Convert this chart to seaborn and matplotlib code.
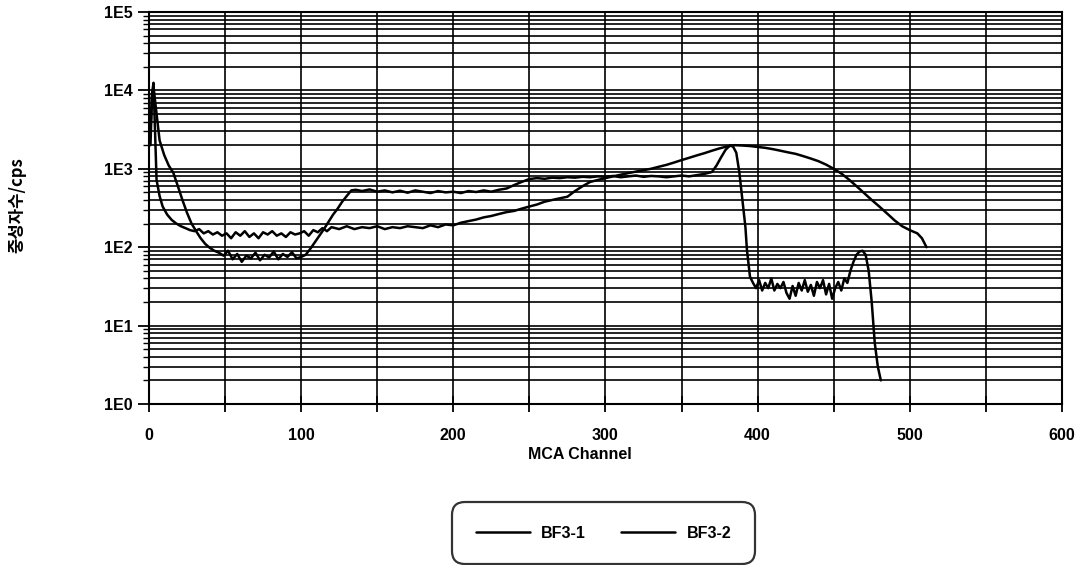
import numpy as np
import pandas as pd
import matplotlib
matplotlib.use("Agg")
import matplotlib.pyplot as plt
from matplotlib.ticker import FixedLocator, MultipleLocator, LogLocator, NullFormatter
import seaborn as sns

# ---- data ----
ch1 = [1, 2, 3, 4, 5, 7, 9, 12, 15, 18, 21, 24, 27, 30, 33, 36, 39, 42, 45, 48, 51, 54, 57, 60,
       63, 66, 69, 72, 75, 78, 81, 84, 87, 90, 93, 96, 99, 102, 105, 108, 111, 114, 117, 120,
       125, 130, 135, 140, 145, 150, 155, 160, 165, 170, 175, 180, 185, 190, 195, 200, 205,
       210, 215, 220, 225, 230, 235, 240, 245, 250, 255, 260, 265, 270, 275, 280, 285, 290,
       295, 300, 305, 310, 315, 320, 325, 330, 335, 340, 345, 350, 355, 360, 365, 370, 375,
       380, 385, 390, 395, 400, 405, 410, 415, 420, 425, 430, 435, 440, 445, 450, 455, 460,
       465, 470, 475, 480, 485, 490, 495, 500, 505, 508, 511]
bf3_1 = [3000, 9000, 12500, 3000, 720, 450, 330, 260, 222, 200, 185, 175, 165, 160, 170, 150,
         160, 145, 155, 140, 150, 130, 155, 140, 160, 135, 150, 130, 155, 145, 160, 140, 150,
         135, 155, 145, 150, 160, 140, 165, 155, 175, 160, 180, 170, 185, 170, 180, 175, 185,
         170, 180, 175, 185, 180, 175, 190, 180, 195, 190, 205, 215, 225, 240, 250, 265, 280,
         290, 310, 330, 350, 380, 400, 420, 440, 520, 600, 680, 720, 760, 800, 840, 880, 920,
         960, 1000, 1060, 1120, 1200, 1290, 1380, 1480, 1580, 1700, 1820, 1930, 2000, 1980,
         1950, 1900, 1850, 1780, 1700, 1620, 1550, 1450, 1350, 1250, 1130, 1000, 870, 730,
         600, 490, 400, 330, 270, 220, 185, 165, 150, 130, 100]

ch2 = [1, 2, 3, 5, 7, 10, 13, 16, 19, 22, 25, 28, 31, 34, 37, 40, 43, 46, 49, 52, 55, 58, 61,
       64, 67, 70, 73, 76, 79, 82, 85, 88, 91, 94, 97, 100, 103, 106, 109, 112, 115, 118, 121,
       124, 127, 130, 133, 136, 140, 145, 150, 155, 160, 165, 170, 175, 180, 185, 190, 195,
       200, 205, 210, 215, 220, 225, 230, 235, 240, 245, 250, 255, 260, 265, 270, 275, 280,
       285, 290, 295, 300, 305, 310, 315, 320, 325, 330, 335, 340, 345, 350, 355, 360, 365,
       370, 373, 376, 379, 382, 384, 386, 388, 390, 392, 393, 395, 397, 399, 401, 403, 405,
       407, 409, 411, 413, 415, 417, 419, 421, 423, 425, 427, 429, 431, 433, 435, 437, 439,
       441, 443, 445, 447, 449, 451, 453, 455, 457, 459, 461, 463, 465, 467, 469, 471, 473,
       475, 477, 479, 481]
bf3_2 = [2000, 8000, 11000, 5000, 2300, 1500, 1100, 890, 600, 400, 275, 200, 160, 130, 110, 98,
         90, 85, 78, 90, 70, 82, 65, 78, 72, 85, 68, 80, 74, 88, 70, 82, 75, 86, 72, 75, 80, 95,
         115, 140, 170, 210, 260, 310, 380, 450, 530, 540, 520, 545, 510, 530, 500, 525, 495,
         530, 510, 490, 520, 500, 510, 490, 520, 505, 530, 510, 540, 560, 620, 680, 740, 760,
         745, 770, 760, 780, 770, 790, 780, 800, 790, 810, 780, 800, 820, 790, 810, 800, 780,
         800, 820, 800, 830, 860, 910, 1100, 1400, 1750, 2000, 1900, 1600, 900, 400, 180, 92,
         42, 35, 30, 38, 28, 35, 30, 40, 28, 34, 30, 36, 26, 22, 32, 24, 35, 28, 38, 27, 33, 24,
         36, 30, 38, 25, 34, 22, 30, 36, 28, 40, 35, 50, 65, 80, 88, 90, 80, 50, 20, 6, 3, 2]

series_names = ["BF3-1", "BF3-2"]
x_ticks = [0, 100, 200, 300, 400, 500, 600]
y_ticks = [1, 10, 100, 1000, 10000, 100000]
y_tick_labels = ["1E0", "1E1", "1E2", "1E3", "1E4", "1E5"]

df = pd.concat([
    pd.DataFrame({"channel": ch1, "cps": bf3_1, "series": series_names[0]}),
    pd.DataFrame({"channel": ch2, "cps": bf3_2, "series": series_names[1]}),
])

sns.set_theme(style="white")
plt.rcParams["font.family"] = ["Liberation Sans", "Noto Sans CJK KR", "DejaVu Sans"]
plt.rcParams["text.color"] = "black"
plt.rcParams["axes.labelcolor"] = "black"
plt.rcParams["xtick.color"] = "black"
plt.rcParams["ytick.color"] = "black"

fig = plt.figure(figsize=(10.77, 5.65), dpi=100)
ax = fig.add_axes([0.1383, 0.285, 0.986 - 0.1383, 0.9788 - 0.285])

sns.lineplot(data=df, x="channel", y="cps", hue="series", ax=ax,
             palette=["black", "black"], linewidth=1.8, legend=False, sort=True,
             estimator=None)

ax.set_yscale("log")
ax.set_xlim(0, 600)
ax.set_ylim(1, 100000)

ax.xaxis.set_major_locator(FixedLocator(x_ticks))
ax.xaxis.set_minor_locator(MultipleLocator(50))
ax.set_xticklabels([str(t) for t in x_ticks], fontsize=11.5, fontweight="bold")
ax.yaxis.set_major_locator(FixedLocator(y_ticks))
ax.set_yticklabels(y_tick_labels, fontsize=11.5, fontweight="bold")
ax.yaxis.set_minor_locator(LogLocator(base=10, subs=np.arange(2, 10), numticks=20))
ax.yaxis.set_minor_formatter(NullFormatter())

ax.grid(True, which="both", axis="both", color="black", linewidth=1.2)
ax.tick_params(axis="x", which="both", direction="inout", length=11, width=1.3,
               color="black", bottom=True)
ax.tick_params(axis="x", which="major", pad=12)
ax.tick_params(axis="y", which="major", direction="out", length=8, width=1.3,
               color="black", left=True, pad=4)
ax.tick_params(axis="y", which="minor", direction="out", length=4, width=1.0, left=True)

for s in ax.spines.values():
    s.set_color("black")
    s.set_linewidth(1.5)

ax.set_xlabel("MCA Channel", fontsize=11.5, fontweight="bold")
ax.xaxis.set_label_coords((580 - 149) / 913, -(455 - 404) / 392, transform=ax.transAxes)
ax.xaxis.label.set_va("center")
ax.set_ylabel("중성자수/cps", fontsize=12, fontweight="bold",
              family=["Noto Sans CJK KR", "DejaVu Sans"])
ax.yaxis.set_label_coords((17.5 - 149) / 913, (404 - 205) / 392, transform=ax.transAxes)
ax.yaxis.label.set_va("center")

handles = [plt.Line2D([0], [0], color="black", linewidth=1.8) for _ in series_names]
leg = fig.legend(handles, series_names, loc="center",
                 bbox_to_anchor=(603.5 / 1077, 1 - 533 / 565),
                 ncol=2, frameon=True, fancybox=True, handlelength=3.4, handletextpad=0.7,
                 columnspacing=2.2, borderpad=1.1, borderaxespad=0,
                 prop={"weight": "bold", "size": 11.5})
leg.get_frame().set_edgecolor("black")
leg.get_frame().set_linewidth(1.6)
leg.get_frame().set_boxstyle("round,pad=0.35,rounding_size=0.8")

fig.savefig("out.png", dpi=100)
